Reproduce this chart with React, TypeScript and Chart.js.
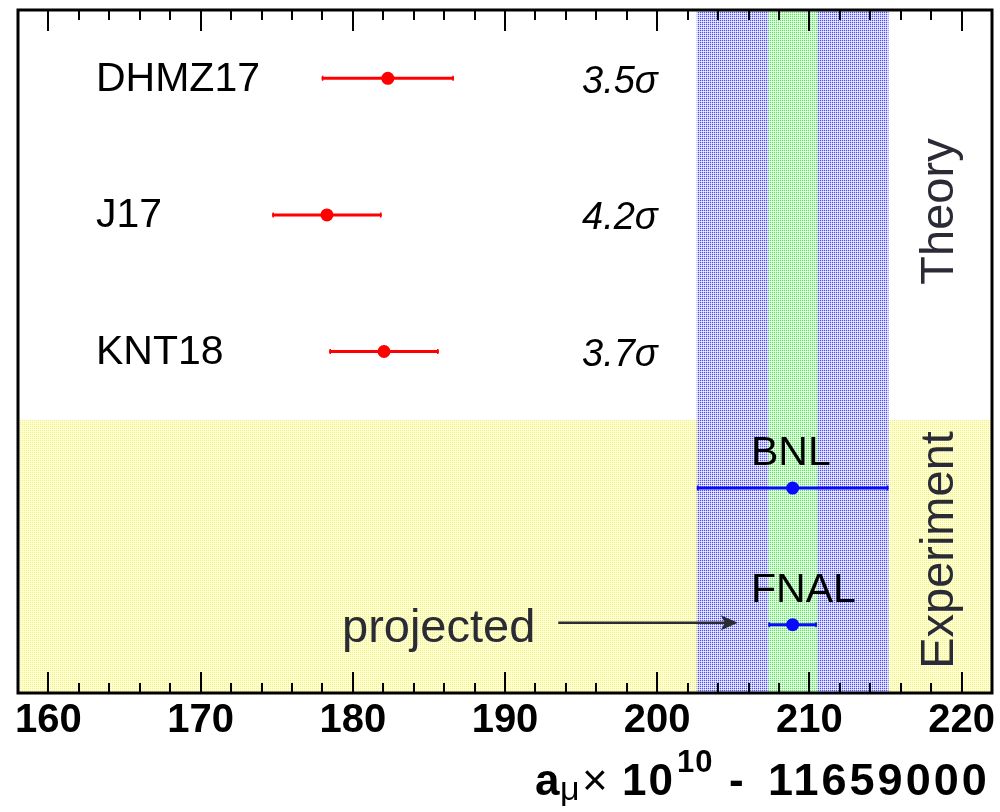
import { useEffect, useRef } from "react";
import { Chart, registerables } from "chart.js";

Chart.register(...registerables);

// Theory predictions of the muon anomaly (a_mu x 1e10 - 11659000)
const theoryNames = ["DHMZ17", "J17", "KNT18"];
const theoryValues = [182.3, 178.3, 182.05];
const theoryErrors = [4.35, 3.6, 3.6];
const theoryTension = ["3.5σ", "4.2σ", "3.7σ"];
const theoryRows = [4.5, 3.5, 2.5];

// Measurements (FNAL is the projected precision)
const experimentNames = ["BNL", "FNAL"];
const experimentValues = [208.9, 208.9];
const experimentErrors = [6.3, 1.6];
const experimentRows = [1.5, 0.5];

// Row span of the experiment block, arrow span for the "projected" note
const experimentBlock = [0, 2];
const arrowSpan = [193.5, 205.3];

const xRange = [158, 222];
const xMajorTicks = [160, 170, 180, 190, 200, 210, 220];

const FONT = "'Liberation Sans', Arial, Helvetica, sans-serif";
const GREY_TEXT = "#2b2b36";

function makePattern(dot: string, mid: string, light: string): CanvasPattern | string {
  const tile = document.createElement("canvas");
  tile.width = 4;
  tile.height = 4;
  const c = tile.getContext("2d");
  if (!c) return mid;
  for (let r = 0; r < 4; r++) {
    for (let col = 0; col < 4; col++) {
      let colour = mid;
      if (r % 2 === 0 && col % 2 === 0) colour = dot;
      else if (r % 2 === 1 && col % 2 === 1) colour = light;
      c.fillStyle = colour;
      c.fillRect(col, r, 1, 1);
    }
  }
  const p = c.createPattern(tile, "repeat");
  return p || mid;
}

export default function App() {
  const ref = useRef<HTMLCanvasElement>(null);

  useEffect(() => {
    const canvas = ref.current;
    if (!canvas) return;

    const yellowFill = makePattern("rgb(245,245,95)", "rgb(255,255,212)", "rgb(255,255,250)");
    const blueFill = makePattern("rgb(80,80,240)", "rgb(200,200,250)", "rgb(242,242,255)");
    const greenFill = makePattern("rgb(90,228,90)", "rgb(205,250,205)", "rgb(245,255,245)");

    const overlay = {
      id: "overlay",
      beforeDatasetsDraw(chart: any) {
        const { ctx, chartArea: a, scales } = chart;
        const x = scales.x;
        const y = scales.y;
        ctx.save();

        // experiment block
        const yTop = y.getPixelForValue(experimentBlock[1]);
        const yBot = y.getPixelForValue(experimentBlock[0]);
        ctx.fillStyle = yellowFill;
        ctx.fillRect(a.left, yTop, a.right - a.left, yBot - yTop);

        // BNL and FNAL uncertainty bands over the full height
        const bands = [
          { v: experimentValues[0], e: experimentErrors[0], fill: blueFill },
          { v: experimentValues[1], e: experimentErrors[1], fill: greenFill },
        ];
        for (const b of bands) {
          const x0 = x.getPixelForValue(b.v - b.e);
          const x1 = x.getPixelForValue(b.v + b.e);
          ctx.fillStyle = b.fill;
          ctx.fillRect(x0, a.top, x1 - x0, a.bottom - a.top);
        }

        // axis ticks, pointing inward at top and bottom
        ctx.strokeStyle = "#000";
        ctx.lineWidth = 2;
        for (let v = 160; v <= 220; v += 2) {
          const px = Math.round(x.getPixelForValue(v));
          const len = v % 10 === 0 ? 21 : 10;
          ctx.beginPath();
          ctx.moveTo(px, a.bottom);
          ctx.lineTo(px, a.bottom - len);
          ctx.moveTo(px, a.top);
          ctx.lineTo(px, a.top + len);
          ctx.stroke();
        }

        // horizontal error bars
        const drawBar = (v: number, e: number, row: number, colour: string) => {
          const py = y.getPixelForValue(row);
          const x0 = x.getPixelForValue(v - e);
          const x1 = x.getPixelForValue(v + e);
          ctx.strokeStyle = colour;
          ctx.lineWidth = 3;
          ctx.beginPath();
          ctx.moveTo(x0, py);
          ctx.lineTo(x1, py);
          ctx.stroke();
          ctx.lineWidth = 1.5;
          ctx.beginPath();
          ctx.moveTo(x0 + 1, py - 2.5);
          ctx.lineTo(x0 + 1, py + 2.5);
          ctx.moveTo(x1 - 1, py - 2.5);
          ctx.lineTo(x1 - 1, py + 2.5);
          ctx.stroke();
        };
        theoryValues.forEach((v, i) => drawBar(v, theoryErrors[i], theoryRows[i], "#ff0000"));
        experimentValues.forEach((v, i) => drawBar(v, experimentErrors[i], experimentRows[i], "#0a0aff"));

        ctx.restore();
      },
      afterDatasetsDraw(chart: any) {
        const { ctx, chartArea: a, scales } = chart;
        const x = scales.x;
        const y = scales.y;
        ctx.save();
        ctx.textAlign = "left";
        ctx.textBaseline = "alphabetic";

        // theory labels and tensions
        theoryNames.forEach((name, i) => {
          const py = y.getPixelForValue(theoryRows[i]);
          ctx.fillStyle = "#000";
          ctx.font = `41px ${FONT}`;
          ctx.fillText(name, 96, py + 12.5);
          ctx.font = `italic 38px ${FONT}`;
          ctx.fillText(theoryTension[i], 582, py + 14.5);
        });

        // experiment labels above the points
        experimentNames.forEach((name, i) => {
          const py = y.getPixelForValue(experimentRows[i]);
          ctx.fillStyle = "#000";
          ctx.font = `41px ${FONT}`;
          ctx.fillText(name, 751, py - 23);
        });

        // "projected" note with arrow
        const pyF = y.getPixelForValue(experimentRows[1]);
        ctx.fillStyle = GREY_TEXT;
        ctx.font = `47px ${FONT}`;
        ctx.fillText("projected", 342, pyF + 17);
        const ax0 = x.getPixelForValue(arrowSpan[0]);
        const ax1 = x.getPixelForValue(arrowSpan[1]);
        const ay = pyF - 2;
        ctx.strokeStyle = GREY_TEXT;
        ctx.lineWidth = 2.5;
        ctx.beginPath();
        ctx.moveTo(ax0, ay);
        ctx.lineTo(ax1 - 10, ay);
        ctx.stroke();
        ctx.beginPath();
        ctx.moveTo(ax1, ay);
        ctx.lineTo(ax1 - 17, ay - 7.5);
        ctx.lineTo(ax1 - 13, ay);
        ctx.lineTo(ax1 - 17, ay + 7.5);
        ctx.closePath();
        ctx.fill();

        // block titles on the right
        ctx.font = `47px ${FONT}`;
        ctx.textAlign = "center";
        const side = (text: string, cy: number) => {
          ctx.save();
          ctx.translate(953, cy);
          ctx.rotate(-Math.PI / 2);
          ctx.fillText(text, 0, 0);
          ctx.restore();
        };
        side("Theory", 211.5);
        side("Experiment", 550);

        // frame
        ctx.strokeStyle = "#000";
        ctx.lineWidth = 3;
        ctx.strokeRect(a.left, a.top, a.right - a.left, a.bottom - a.top);
        ctx.restore();
      },
      afterDraw(chart: any) {
        const { ctx } = chart;
        ctx.save();
        ctx.fillStyle = "#000";
        ctx.textAlign = "left";
        ctx.textBaseline = "alphabetic";
        const base = 795;
        ctx.font = `bold 44px ${FONT}`;
        ctx.fillText("a", 535, base);
        ctx.font = `34px ${FONT}`;
        ctx.fillText("μ", 560, base + 5);
        ctx.font = `44px ${FONT}`;
        ctx.fillText("×", 582, base);
        ctx.font = `bold 44px ${FONT}`;
        (ctx as any).letterSpacing = "2px";
        ctx.fillText("10", 622, base);
        ctx.font = `bold 31px ${FONT}`;
        (ctx as any).letterSpacing = "1px";
        ctx.fillText("10", 677, base - 23);
        ctx.font = `bold 44px ${FONT}`;
        (ctx as any).letterSpacing = "0px";
        ctx.fillText("-", 729, base);
        ctx.font = `bold 45px ${FONT}`;
        (ctx as any).letterSpacing = "3px";
        ctx.fillText("11659000", 768, base);
        ctx.restore();
      },
    };

    const chart = new Chart(canvas, {
      type: "scatter",
      data: {
        datasets: [
          {
            label: "Theory",
            data: theoryValues.map((v, i) => ({ x: v, y: theoryRows[i] })),
            backgroundColor: "#ff0000",
            borderWidth: 0,
            pointRadius: 6.5,
          },
          {
            label: "Experiment",
            data: experimentValues.map((v, i) => ({ x: v, y: experimentRows[i] })),
            backgroundColor: "#0a0aff",
            borderWidth: 0,
            pointRadius: 6.5,
          },
        ],
      },
      options: {
        responsive: false,
        animation: false,
        events: [],
        layout: { padding: { left: 18, right: 8, top: 10, bottom: 0 } },
        plugins: { legend: { display: false }, tooltip: { enabled: false } },
        scales: {
          x: {
            type: "linear",
            min: xRange[0],
            max: xRange[1],
            afterFit: (s: any) => {
              s.height = 119;
            },
            afterBuildTicks: (s: any) => {
              s.ticks = xMajorTicks.map((v) => ({ value: v }));
            },
            grid: { display: false, drawTicks: false },
            border: { display: false },
            ticks: {
              autoSkip: false,
              maxRotation: 0,
              includeBounds: false,
              padding: 4,
              color: "#000",
              font: { family: FONT, size: 40, weight: "bold" },
            },
          },
          y: { type: "linear", min: 0, max: 5, display: false },
        },
      },
      plugins: [overlay],
    } as any);

    return () => chart.destroy();
  }, []);

  return (
    <div style={{ position: "absolute", left: 0, top: 0, width: 1000, height: 812, background: "#fff" }}>
      <canvas ref={ref} width={1000} height={812} style={{ display: "block", width: 1000, height: 812 }} />
    </div>
  );
}
